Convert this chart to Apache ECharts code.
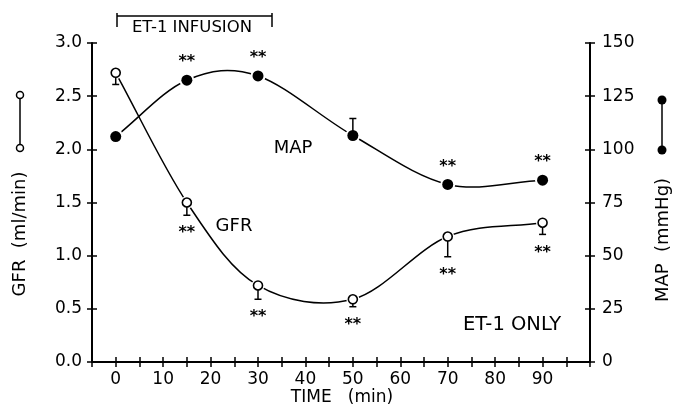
<!DOCTYPE html>
<html>
<head>
<meta charset="utf-8">
<script src="https://cdn.jsdelivr.net/npm/echarts@6/dist/echarts.min.js"></script>
<style>
html,body{margin:0;padding:0;background:#fff;}
#c{width:676px;height:412px;}
</style>
</head>
<body>
<div id="c"></div>
<script>
// ---- data ----
const times   = [0, 15, 30, 50, 70, 90];
const gfr     = [2.72, 1.50, 0.72, 0.59, 1.18, 1.31];
const gfrSem  = [0.11, 0.12, 0.13, 0.07, 0.19, 0.11];
const gfrSig  = [0, 1, 1, 1, 1, 1];
const mapVals = [106, 132.5, 134.5, 106.5, 83.5, 85.5];
const mapSem  = [0, 0, 0, 8, 0, 0];
const mapSig  = [0, 1, 1, 0, 1, 1];
const xTickLabels = [0, 10, 20, 30, 40, 50, 60, 70, 80, 90];

const FONT = 'DejaVu Sans';
const gfrPts = times.map((t, i) => [t, gfr[i]]);
const mapPts = times.map((t, i) => [t, mapVals[i]]);
const gfrErr = times.map((t, i) => [t, gfr[i], gfrSem[i], gfrSig[i]]);
const mapErr = times.map((t, i) => [t, mapVals[i], mapSem[i], mapSig[i]]);

// smooth (Catmull-Rom) curve through the points, drawn via the axis scales
function curveRenderer(pts) {
  return function (params, api) {
    const i = params.dataIndex;
    if (i >= pts.length - 1) return null;
    const P = pts.map(d => api.coord(d));
    function tan(k) {
      if (k === 0) return [P[1][0] - P[0][0], P[1][1] - P[0][1]];
      const n = P.length - 1;
      if (k === n) return [P[n][0] - P[n - 1][0], P[n][1] - P[n - 1][1]];
      return [(P[k + 1][0] - P[k - 1][0]) / 2, (P[k + 1][1] - P[k - 1][1]) / 2];
    }
    const a = P[i], b = P[i + 1], ta = tan(i), tb = tan(i + 1);
    return {type: 'bezierCurve', shape: {
      x1: a[0], y1: a[1], x2: b[0], y2: b[1],
      cpx1: a[0] + ta[0] / 3, cpy1: a[1] + ta[1] / 3,
      cpx2: b[0] - tb[0] / 3, cpy2: b[1] - tb[1] / 3},
      style: {stroke: '#000', lineWidth: 1.5, fill: null}};
  };
}

function errRenderer(dir) {
  return function (params, api) {
    const x = api.value(0), v = api.value(1), e = api.value(2), sig = api.value(3);
    const p = api.coord([x, v]);
    const q = api.coord([x, v + dir * e]);
    const children = [];
    if (e > 0) {
      children.push({type: 'line', shape: {x1: p[0], y1: p[1], x2: q[0], y2: q[1]},
        style: {stroke: '#000', lineWidth: 1.5}});
      children.push({type: 'line', shape: {x1: q[0] - 3.5, y1: q[1], x2: q[0] + 3.5, y2: q[1]},
        style: {stroke: '#000', lineWidth: 1.5}});
    }
    if (sig) {
      let yy;
      if (dir < 0) yy = Math.max(q[1], p[1] + 5) + 15 + 3;
      else yy = Math.min(q[1], p[1] - 5) - 16 + 3;
      children.push({type: 'text', style: {text: '**', x: p[0], y: yy,
        textAlign: 'center', textVerticalAlign: 'middle', align: 'center', verticalAlign: 'middle',
        font: 'bold 16px "' + FONT + '"', fill: '#000'}});
    }
    return {type: 'group', children: children};
  };
}

const axisLineStyle = {color: '#000', width: 2};
const tickStyle = {color: '#000', width: 1.5};

const chart = echarts.init(document.getElementById('c'), null, {renderer: 'canvas'});
chart.setOption({
  backgroundColor: '#fff',
  animation: false,
  grid: {left: 92, right: 86, top: 43, bottom: 50, containLabel: false},
  xAxis: [
    {type: 'value', min: -5, max: 100, interval: 5, position: 'bottom',
     axisLine: {show: true, onZero: false, lineStyle: axisLineStyle},
     axisTick: {show: true, inside: false, length: 5, lineStyle: tickStyle},
     axisLabel: {show: true, margin: 9, fontSize: 17, fontFamily: FONT, color: '#000',
       formatter: v => (xTickLabels.indexOf(v) >= 0 ? String(v) : '')},
     splitLine: {show: false}},
    {type: 'value', min: -5, max: 100, interval: 5, position: 'bottom',
     axisLine: {show: false, onZero: false},
     axisTick: {show: true, inside: true, length: 5, lineStyle: tickStyle},
     axisLabel: {show: false}, splitLine: {show: false}}
  ],
  yAxis: [
    {type: 'value', min: 0, max: 3, interval: 0.5, position: 'left',
     axisLine: {show: true, onZero: false, lineStyle: axisLineStyle},
     axisTick: {show: true, inside: false, length: 5, lineStyle: tickStyle},
     axisLabel: {margin: 10, fontSize: 17, fontFamily: FONT, color: '#000', formatter: v => v.toFixed(1)},
     splitLine: {show: false}},
    {type: 'value', min: 0, max: 3, interval: 0.5, position: 'left',
     axisLine: {show: false, onZero: false},
     axisTick: {show: true, inside: true, length: 5, lineStyle: tickStyle},
     axisLabel: {show: false}, splitLine: {show: false}},
    {type: 'value', min: 0, max: 150, interval: 25, position: 'right',
     axisLine: {show: true, onZero: false, lineStyle: axisLineStyle},
     axisTick: {show: true, inside: false, length: 5, lineStyle: tickStyle},
     axisLabel: {margin: 12, fontSize: 17, fontFamily: FONT, color: '#000'},
     splitLine: {show: false}},
    {type: 'value', min: 0, max: 150, interval: 25, position: 'right',
     axisLine: {show: false, onZero: false},
     axisTick: {show: true, inside: true, length: 5, lineStyle: tickStyle},
     axisLabel: {show: false}, splitLine: {show: false}}
  ],
  series: [
    {type: 'custom', name: 'GFR', xAxisIndex: 0, yAxisIndex: 0, data: gfrPts,
     renderItem: curveRenderer(gfrPts), z: 2},
    {type: 'custom', name: 'MAP', xAxisIndex: 0, yAxisIndex: 2, data: mapPts,
     renderItem: curveRenderer(mapPts), z: 2},
    {type: 'scatter', xAxisIndex: 0, yAxisIndex: 0, data: gfrPts, symbol: 'circle', symbolSize: 13,
     itemStyle: {color: '#fff', opacity: 1}, z: 3, silent: true},
    {type: 'scatter', xAxisIndex: 0, yAxisIndex: 2, data: mapPts, symbol: 'circle', symbolSize: 15,
     itemStyle: {color: '#fff', opacity: 1}, z: 3, silent: true},
    {type: 'custom', xAxisIndex: 0, yAxisIndex: 0, data: gfrErr, renderItem: errRenderer(-1), z: 4},
    {type: 'custom', xAxisIndex: 0, yAxisIndex: 2, data: mapErr, renderItem: errRenderer(1), z: 4},
    {type: 'scatter', xAxisIndex: 0, yAxisIndex: 0, data: gfrPts, symbol: 'circle', symbolSize: 9,
     itemStyle: {color: '#fff', borderColor: '#000', borderWidth: 1.6, opacity: 1}, z: 5},
    {type: 'scatter', xAxisIndex: 0, yAxisIndex: 2, data: mapPts, symbol: 'circle', symbolSize: 11,
     itemStyle: {color: '#000', opacity: 1}, z: 5}
  ],
  graphic: [
    // ET-1 infusion bracket
    {type: 'line', shape: {x1: 117, y1: 16, x2: 272, y2: 16}, style: {stroke: '#000', lineWidth: 1.5}},
    {type: 'line', shape: {x1: 117, y1: 13, x2: 117, y2: 27}, style: {stroke: '#000', lineWidth: 1.5}},
    {type: 'line', shape: {x1: 272, y1: 13, x2: 272, y2: 27}, style: {stroke: '#000', lineWidth: 1.5}},
    {type: 'text', x: 192, y: 28, style: {text: 'ET-1 INFUSION', align: 'center', verticalAlign: 'middle',
      font: '16.5px "' + FONT + '"', fill: '#000'}},
    {type: 'text', x: 293, y: 148, style: {text: 'MAP', align: 'center', verticalAlign: 'middle',
      font: '18px "' + FONT + '"', fill: '#000'}},
    {type: 'text', x: 234, y: 226, style: {text: 'GFR', align: 'center', verticalAlign: 'middle',
      font: '18px "' + FONT + '"', fill: '#000'}},
    {type: 'text', x: 512, y: 325, style: {text: 'ET-1 ONLY', align: 'center', verticalAlign: 'middle',
      font: '19.5px "' + FONT + '"', fill: '#000'}},
    {type: 'text', x: 342, y: 398, style: {text: 'TIME   (min)', align: 'center', verticalAlign: 'middle',
      font: '17px "' + FONT + '"', fill: '#000'}},
    // left axis title + symbol
    {type: 'text', x: 20, y: 234, rotation: Math.PI / 2, style: {text: 'GFR  (ml/min)', align: 'center',
      verticalAlign: 'middle', font: '18px "' + FONT + '"', fill: '#000'}},
    {type: 'line', shape: {x1: 20, y1: 99, x2: 20, y2: 144}, style: {stroke: '#000', lineWidth: 1.5}},
    {type: 'circle', shape: {cx: 20, cy: 95, r: 3.5}, style: {fill: '#fff', stroke: '#000', lineWidth: 1.5}},
    {type: 'circle', shape: {cx: 20, cy: 148, r: 3.5}, style: {fill: '#fff', stroke: '#000', lineWidth: 1.5}},
    // right axis title + symbol
    {type: 'text', x: 663, y: 240, rotation: Math.PI / 2, style: {text: 'MAP  (mmHg)', align: 'center',
      verticalAlign: 'middle', font: '18px "' + FONT + '"', fill: '#000'}},
    {type: 'line', shape: {x1: 662, y1: 103, x2: 662, y2: 147}, style: {stroke: '#000', lineWidth: 1.5}},
    {type: 'circle', shape: {cx: 662, cy: 100, r: 4.5}, style: {fill: '#000'}},
    {type: 'circle', shape: {cx: 662, cy: 150, r: 4.5}, style: {fill: '#000'}}
  ]
});
</script>
</body>
</html>
